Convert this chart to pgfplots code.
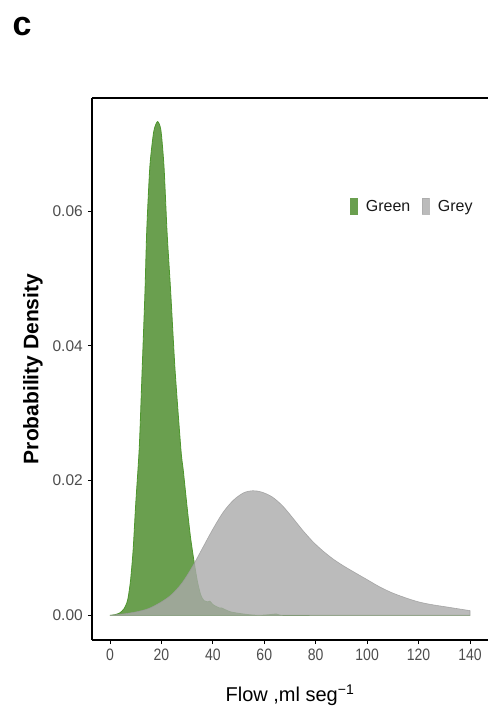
\documentclass[border=0pt]{standalone}
\usepackage{pgfplots}
\pgfplotsset{compat=1.18}
\usepackage{fontspec}
\setmainfont{Liberation Sans}
\definecolor{greenfill}{HTML}{6A9F4F}
\definecolor{greenline}{HTML}{4E962E}
\definecolor{greyfill}{HTML}{AAAAAA}
\definecolor{greyline}{HTML}{9A9A9A}
\definecolor{ticktext}{HTML}{4D4D4D}
\begin{document}
\begin{tikzpicture}
\useasboundingbox (0,0) rectangle (488bp,710bp);
\node[font=\fontsize{34bp}{36bp}\selectfont\bfseries, anchor=center] at (22bp,683bp) {c};
\begin{axis}[
  at={(92bp,70bp)}, anchor=south west,
  scale only axis, width=396bp, height=542bp,
  xmin=-7, xmax=147, ymin=-0.00366, ymax=0.0768,
  scaled y ticks=false, scaled x ticks=false,
  axis x line=box, axis y line=left,
  axis line style={-, black, line width=1.2bp},
  tick align=outside, xtick pos=bottom, ytick pos=left,
  major tick length=4bp,
  tick style={black, line width=1bp},
  xtick={0,20,40,60,80,100,120,140},
  xticklabels={0,20,40,60,80,100,120,140},
  ytick={0,0.02,0.04,0.06},
  yticklabels={0.00,0.02,0.04,0.06},
  xticklabel style={font=\fontsize{16.5bp}{18bp}\selectfont, text=ticktext, xscale=0.85, inner sep=0pt, yshift=-5bp, anchor=north},
  yticklabel style={font=\fontsize{15.5bp}{18bp}\selectfont, text=ticktext, inner sep=0pt, xshift=-5bp, anchor=east},
  every axis y label/.style={at={(rel axis cs:0,0.5)}, xshift=-59bp, rotate=90, anchor=center, font=\fontsize{21bp}{24bp}\selectfont\bfseries},
  every axis x label/.style={at={(rel axis cs:0.5,0)}, anchor=base, yshift=-61.7bp, font=\fontsize{20bp}{24bp}\selectfont},
  xlabel={Flow ,ml seg\textsuperscript{\char"2212 1}},
  ylabel={Probability Density},
  legend style={at={(rel axis cs:0.65,0.80)}, anchor=west, draw=none, fill=none,
    inner sep=0pt, font=\fontsize{16bp}{18bp}\selectfont, text=black!90,
    nodes={inner ysep=2.5bp, inner xsep=8.5bp},
    /tikz/every even column/.append style={column sep=3bp}},
  legend columns=2,
  clip=false,
]
\addplot[smooth, tension=0.4, draw=greenline, line width=0.8bp, fill=greenfill,
  legend image code/.code={\fill[greenfill] (0bp,-8bp) rectangle (7bp,8bp);}]
table {
0 0
2 0.0001
4 0.0004
5.5 0.0010
6.5 0.0018
7.1 0.0027
8 0.0052
9 0.0097
10 0.0165
11.4 0.0250
12.5 0.0364
13.6 0.0480
14.3 0.0572
15.5 0.0666
17 0.0718
18.5 0.0733
19.8 0.0720
21 0.0666
22.2 0.0568
23.6 0.0480
25.3 0.0364
27.6 0.0245
28.5 0.0215
30 0.0160
31.3 0.0116
32.6 0.0082
34 0.0050
35.3 0.0030
36.5 0.0022
38 0.0020
38.8 0.0021
40 0.0016
41.4 0.0013
42.5 0.0011
43.4 0.0011
45 0.0008
47 0.0005
50 0.0003
54 0.0001
58 0.0
62 0.0001
64.7 0.0002
67 0.0
80 0
140 0
} \closedcycle;
\addlegendentry{Green}
\addplot[smooth, tension=0.5, draw=greyline, line width=0.6bp, fill=greyfill, fill opacity=0.8, draw opacity=0.8,
  legend image code/.code={\fill[greyfill, fill opacity=0.8] (0bp,-8bp) rectangle (7bp,8bp);}]
table {
0 0
5 0.0002
10 0.0005
15 0.0010
20 0.0020
24 0.0031
28 0.0048
32 0.0072
36 0.0100
40 0.0128
44 0.0153
48 0.0171
52 0.0182
55.6 0.0185
59 0.0183
63 0.0176
67 0.0163
71 0.0145
75 0.0126
79 0.0109
83 0.0095
87 0.0083
91 0.0073
95 0.0064
100 0.0053
105 0.0042
110 0.0033
115 0.0026
120 0.0020
125 0.0016
130 0.0013
135 0.0010
140 0.0007
} \closedcycle;
\addlegendentry{Grey}
\end{axis}
\end{tikzpicture}
\end{document}
